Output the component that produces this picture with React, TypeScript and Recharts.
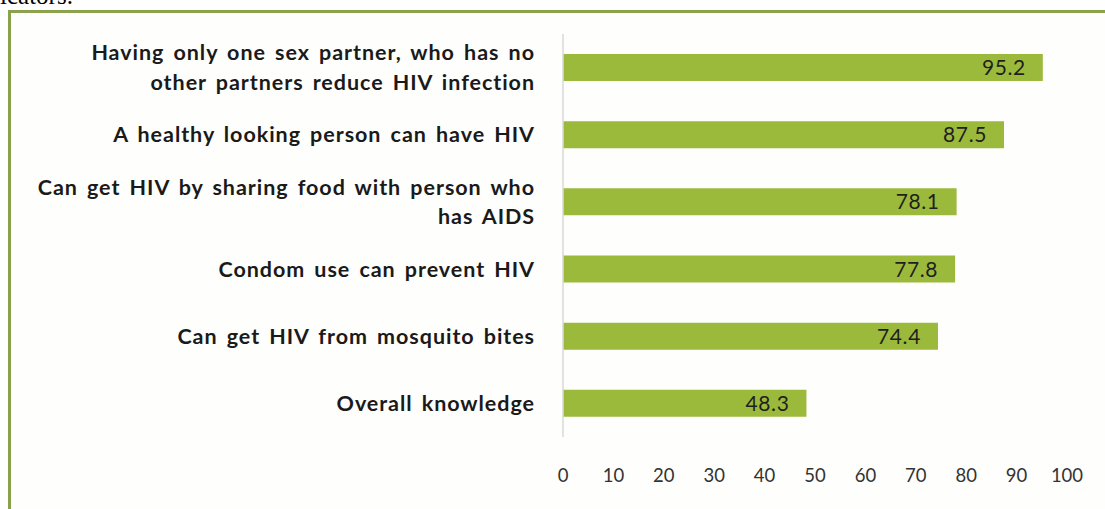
import React from "react";
import { BarChart, Bar, XAxis, YAxis, LabelList } from "recharts";

const categories = [
  "Having only one sex partner, who has no\nother partners reduce HIV infection",
  "A healthy looking person can have HIV",
  "Can get HIV by sharing food with person who\nhas AIDS",
  "Condom use can prevent HIV",
  "Can get HIV from mosquito bites",
  "Overall knowledge",
];
const values = [95.2, 87.5, 78.1, 77.8, 74.4, 48.3];
const xTicks = [0, 10, 20, 30, 40, 50, 60, 70, 80, 90, 100];

const data = categories.map((c, i) => ({ name: c, value: values[i] }));

const LABEL_FONT = "Lato, 'Open Sans', sans-serif";

const YTick = (props: any) => {
  const { x, y, payload } = props;
  const lines = String(payload.value).split("\n");
  const lh = 29.5;
  const start = -((lines.length - 1) * lh) / 2;
  return (
    <text
      x={x}
      y={y}
      textAnchor="end"
      fill="#1a1a1a"
      fontFamily={LABEL_FONT}
      fontWeight={700}
      fontSize={21.5}
      letterSpacing={0.95}
      wordSpacing={3}
    >
      {lines.map((l, i) => (
        <tspan key={i} x={x} y={y + start + i * lh + 7.5}>
          {l}
        </tspan>
      ))}
    </text>
  );
};

const ValueLabel = (props: any) => {
  const { x, y, width, height, value } = props;
  return (
    <text
      x={x + width - 17}
      y={y + height / 2 + 7.5}
      textAnchor="end"
      fill="#1f1f1f"
      fontFamily={LABEL_FONT}
      fontSize={21}
      letterSpacing={0.6}
    >
      {value}
    </text>
  );
};

export default function App() {
  return (
    <div
      style={{
        position: "fixed",
        left: 0,
        top: 0,
        width: 1105,
        height: 509,
        overflow: "hidden",
        background: "#ffffff",
      }}
    >
      <div
        style={{
          position: "absolute",
          left: 0,
          top: -17,
          fontFamily: "'Liberation Serif', serif",
          fontSize: 25,
          lineHeight: "25px",
          color: "#000",
        }}
      >
        icators.
      </div>
      <div
        style={{
          position: "absolute",
          left: 8,
          top: 10,
          width: 1120,
          height: 520,
          border: "3px solid #8aa24c",
          background: "#fefefc",
        }}
      />
      <div style={{ position: "absolute", left: 0, top: 0 }}>
        <BarChart
          layout="vertical"
          width={1105}
          height={509}
          data={data}
          margin={{ top: 34, right: 38, bottom: 22, left: 0 }}
        >
          <XAxis
            type="number"
            domain={[0, 100]}
            ticks={xTicks}
            interval={0}
            axisLine={false}
            tickLine={false}
            tickSize={0}
            tickMargin={32}
            height={50}
            tick={{ fill: "#333", fontSize: 18.5, fontFamily: LABEL_FONT }}
          />
          <YAxis
            type="category"
            dataKey="name"
            width={563}
            axisLine={{ stroke: "#d9d9d9", strokeWidth: 1.5 }}
            tickLine={false}
            tickSize={0}
            tickMargin={28}
            interval={0}
            tick={<YTick />}
          />
          <Bar dataKey="value" fill="#9bba3c" barSize={27} isAnimationActive={false}>
            <LabelList dataKey="value" content={<ValueLabel />} />
          </Bar>
        </BarChart>
      </div>
    </div>
  );
}
